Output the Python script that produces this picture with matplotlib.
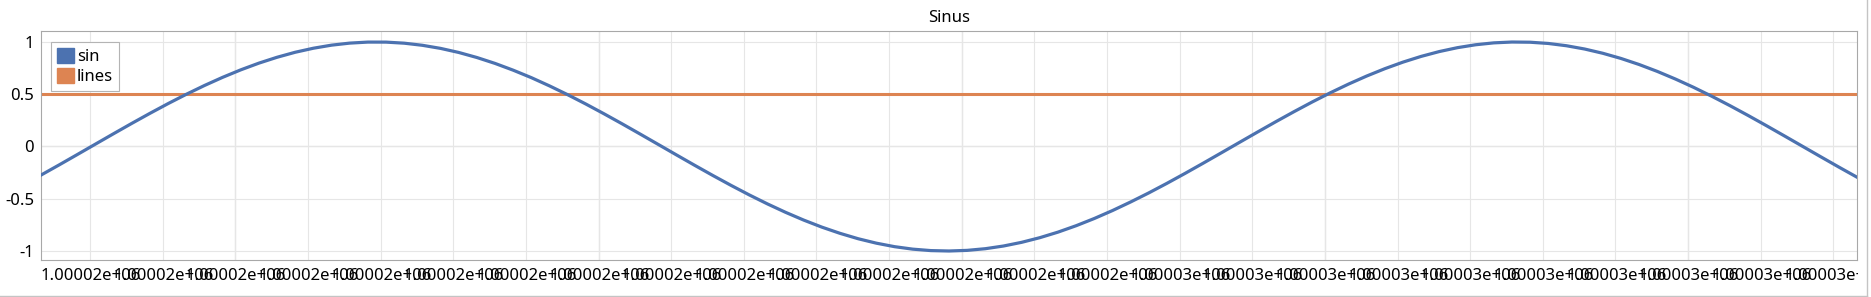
from matplotlib import pyplot
from matplotlib.patches import Patch
from matplotlib.lines import Line2D
from matplotlib import transforms
import numpy as np

pyplot.rcParams['font.family'] = ['Noto Sans', 'DejaVu Sans']

x_sin = [1000018.93, 1000019.03, 1000019.13, 1000019.23, 1000019.33, 1000019.43, 1000019.53, 1000019.63, 1000019.73, 1000019.83,
         1000019.93, 1000020.03, 1000020.13, 1000020.23, 1000020.33, 1000020.43, 1000020.53, 1000020.63, 1000020.73, 1000020.83,
         1000020.93, 1000021.03, 1000021.13, 1000021.23, 1000021.33, 1000021.43, 1000021.53, 1000021.63, 1000021.73, 1000021.83,
         1000021.93, 1000022.03, 1000022.13, 1000022.23, 1000022.33, 1000022.43, 1000022.53, 1000022.63, 1000022.73, 1000022.83,
         1000022.93, 1000023.03, 1000023.13, 1000023.23, 1000023.33, 1000023.43, 1000023.53, 1000023.63, 1000023.73, 1000023.83,
         1000023.93, 1000024.03, 1000024.13, 1000024.23, 1000024.33, 1000024.43, 1000024.53, 1000024.63, 1000024.73, 1000024.83,
         1000024.93, 1000025.03, 1000025.13, 1000025.23, 1000025.33, 1000025.43, 1000025.53, 1000025.63, 1000025.73, 1000025.83,
         1000025.93, 1000026.03, 1000026.13, 1000026.23, 1000026.33, 1000026.43, 1000026.53, 1000026.63, 1000026.73, 1000026.83,
         1000026.93, 1000027.03, 1000027.13, 1000027.23, 1000027.33, 1000027.43, 1000027.53, 1000027.63, 1000027.73, 1000027.83,
         1000027.93, 1000028.03, 1000028.13, 1000028.23, 1000028.33, 1000028.43, 1000028.53, 1000028.63, 1000028.73, 1000028.83,
         1000028.93]
y_sin = [-0.2735, -0.1761, -0.0769, 0.0230, 0.1227, 0.2212, 0.3174, 0.4105, 0.4994, 0.5835,
         0.6616, 0.7333, 0.7976, 0.8537, 0.9017, 0.9402, 0.9696, 0.9891, 0.9989, 0.9986,
         0.9884, 0.9683, 0.9387, 0.8998, 0.8515, 0.7950, 0.7302, 0.6587, 0.5799, 0.4957,
         0.4065, 0.3132, 0.2169, 0.1183, 0.0186, -0.0813, -0.1804, -0.2777, -0.3722, -0.4631,
         -0.5492, -0.6298, -0.7042, -0.7716, -0.8310, -0.8826, -0.9250, -0.9584, -0.9821, -0.9960,
         -0.9999, -0.9939, -0.9779, -0.9522, -0.9169, -0.8725, -0.8194, -0.7580, -0.6890, -0.6131,
         -0.5309, -0.4441, -0.3525, -0.2573, -0.1595, -0.0602, 0.0398, 0.1393, 0.2375, 0.3333,
         0.4258, 0.5140, 0.5971, 0.6741, 0.7444, 0.8073, 0.8621, 0.9084, 0.9456, 0.9734,
         0.9915, 0.9995, 0.9976, 0.9858, 0.9640, 0.9327, 0.8920, 0.8425, 0.7845, 0.7186,
         0.6455, 0.5662, 0.4810, 0.3911, 0.2972, 0.2004, 0.1016, 0.0018, -0.0980, -0.1969,
         -0.2938]

x_lines = [1000018.93, 1000028.93]
y_lines = [0.5, 0.5]

x_major = [1000020, 1000022, 1000024, 1000026, 1000028]
x_label_pos = [1000019.0, 1000019.4, 1000019.8, 1000020.2, 1000020.6, 1000021.0, 1000021.4, 1000021.8,
               1000022.2, 1000022.6, 1000023.0, 1000023.4, 1000023.8, 1000024.2, 1000024.6, 1000025.0,
               1000025.4, 1000025.8, 1000026.2, 1000026.6, 1000027.0, 1000027.4, 1000027.8, 1000028.2,
               1000028.6]
x_labels = ['1.00002e+06'] * 15 + ['1.00003e+06'] * 10
y_ticks = [-1, -0.5, 0, 0.5, 1]
y_labels = ['-1', '-0.5', '0', '0.5', '1']

c_sin = '#4c72b0'
c_lines = '#dd8452'

W, H = 1871, 297
fig = pyplot.figure(figsize=(W / 100, H / 100), dpi=100)
ax = fig.add_axes([41 / W, 1 - 260 / H, (1857 - 41) / W, (260 - 31) / H])

ax.set_xlim(1000018.93, 1000028.93)
ax.set_ylim(-1.086, 1.105)

# grid
ax.set_xticks(np.arange(1000019.0, 1000028.9, 0.2), minor=True)
ax.grid(True, which='minor', axis='x', color='#e6e6e6', lw=0.8, zorder=0)
ax.set_yticks(y_ticks)
ax.set_yticklabels(y_labels)
ax.grid(True, which='major', axis='y', color='#e6e6e6', lw=0.8, zorder=0)
for xv in x_major:
    ax.axvline(xv, color='#b4b4b4', lw=0.8, zorder=0.5)
ax.axhline(0, color='#b4b4b4', lw=0.8, zorder=0.5)

ax.plot(x_sin, y_sin, color=c_sin, lw=2.3, zorder=3)
ax.plot(x_lines, y_lines, color=c_lines, lw=2.2, zorder=2)

ax.set_xticks(x_label_pos)
ax.set_xticklabels(x_labels)
ax.tick_params(axis='both', which='both', length=0, labelsize=12, colors='black')
ax.tick_params(axis='y', pad=5)
ax.tick_params(axis='x', pad=5.5)

offset = transforms.ScaledTranslation(-13 / 100, 0, fig.dpi_scale_trans)
clip = transforms.TransformedBbox(transforms.Bbox.from_extents(0, 0, 1858 / W, 1), fig.transFigure)
for lab in ax.xaxis.get_majorticklabels():
    lab.set_horizontalalignment('left')
    lab.set_transform(lab.get_transform() + offset)
    lab.set_clip_box(clip)
    lab.set_clip_on(True)

for s in ax.spines.values():
    s.set_color('#a8a8a8')
    s.set_linewidth(0.8)

ax.set_title('Sinus', fontsize=12, pad=6.5)

handles = [Patch(facecolor=c_sin, edgecolor=c_sin), Patch(facecolor=c_lines, edgecolor=c_lines)]
leg = ax.legend(handles, ['sin', 'lines'], loc='upper left', bbox_to_anchor=(10 / 1816, 1 - 11 / 229),
                borderaxespad=0, fontsize=12, handlelength=1.0, handleheight=1.0, handletextpad=0.2,
                labelspacing=0.2, borderpad=0.35, fancybox=False, framealpha=1, edgecolor='#b4b4b4')
leg.get_frame().set_linewidth(0.8)

# widget border
fig.add_artist(Line2D([1867 / W, 1867 / W], [0, 1], transform=fig.transFigure, color='#c4c4c4', lw=1))
fig.add_artist(Line2D([0, 1867 / W], [1.5 / H, 1.5 / H], transform=fig.transFigure, color='#c4c4c4', lw=1))

fig.savefig('out.png', dpi=100)
